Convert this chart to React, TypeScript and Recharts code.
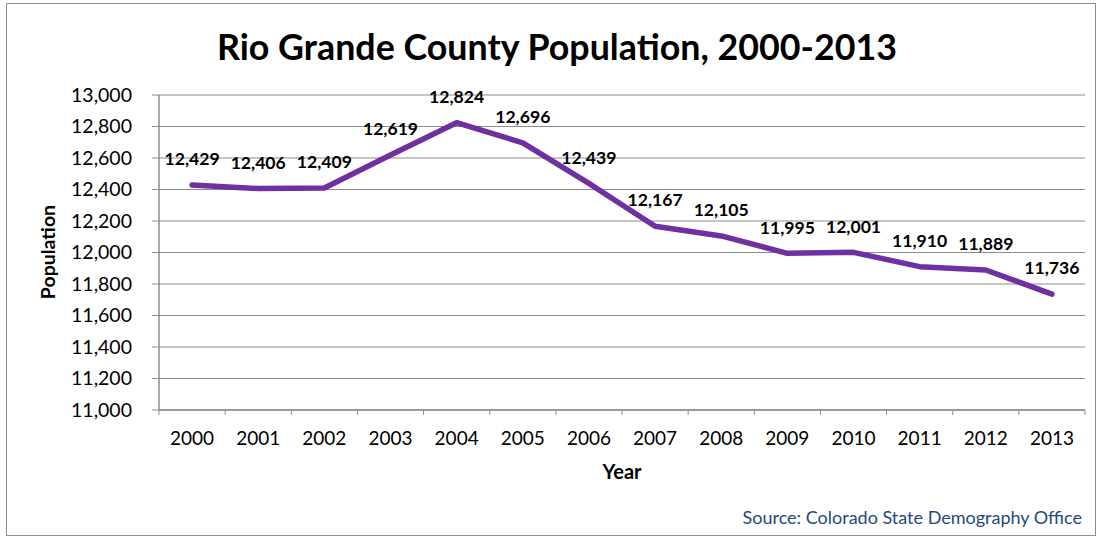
import React from 'react';
import { LineChart, Line, XAxis, YAxis, CartesianGrid, LabelList } from 'recharts';

const years = ['2000', '2001', '2002', '2003', '2004', '2005', '2006', '2007', '2008', '2009', '2010', '2011', '2012', '2013'];
const population = [12429, 12406, 12409, 12619, 12824, 12696, 12439, 12167, 12105, 11995, 12001, 11910, 11889, 11736];
const yTicks = [11000, 11200, 11400, 11600, 11800, 12000, 12200, 12400, 12600, 12800, 13000];

const data = years.map((year, i) => ({ year, population: population[i] }));

const W = 1097;
const H = 538;
const MARGIN = { top: 95, right: 12, bottom: 88, left: 79 };
const Y_AXIS_W = 80;
const X_AXIS_H = 40;
const PLOT_W = W - MARGIN.left - MARGIN.right - Y_AXIS_W;
const FONT = 'Lato, "Open Sans", sans-serif';
const GRID = '#8c8c8c';

const fmt = (v: number) => v.toLocaleString('en-US');

const XTick = (props: any) => {
  const { x, y, payload, index } = props;
  const half = PLOT_W / years.length / 2;
  return (
    <g>
      <line x1={x - half} x2={x - half} y1={y} y2={y + 5} stroke={GRID} strokeWidth={1} />
      {index === years.length - 1 && (
        <line x1={x + half} x2={x + half} y1={y} y2={y + 5} stroke={GRID} strokeWidth={1} />
      )}
      <text x={x} y={y + 28} dy="0.355em" textAnchor="middle" fontFamily={FONT} fontSize={19} fill="#000">
        {payload.value}
      </text>
    </g>
  );
};

const renderLabel = (props: any) => {
  const { x, y, value } = props;
  return (
    <text x={x} y={y - 26} dy="0.355em" textAnchor="middle" fontFamily={FONT} fontWeight={700} fontSize={17.6} fill="#000">
      {fmt(value)}
    </text>
  );
};

export default function App() {
  return (
    <div style={{ position: 'absolute', left: 0, top: 0, width: W, height: H, background: '#fff' }}>
      <div style={{ position: 'absolute', left: 6, top: 3, width: 1088, height: 531, border: '1px solid #8c8c8c' }} />
      <LineChart width={W} height={H} data={data} margin={MARGIN}>
        <CartesianGrid vertical={false} stroke={GRID} strokeWidth={1} />
        <XAxis
          dataKey="year"
          scale="band"
          height={X_AXIS_H}
          tickSize={0}
          tickMargin={0}
          tick={<XTick />}
          axisLine={{ stroke: GRID, strokeWidth: 1.5 }}
          tickLine={false}
          interval={0}
        />
        <YAxis
          width={Y_AXIS_W}
          domain={[11000, 13000]}
          ticks={yTicks}
          tickFormatter={fmt}
          tickSize={7}
          tickMargin={20}
          axisLine={{ stroke: GRID, strokeWidth: 1.5 }}
          tickLine={{ stroke: GRID }}
          tick={{ fill: '#000', fontSize: 19.5, fontFamily: FONT }}
          allowDataOverflow
        />
        <Line
          type="linear"
          dataKey="population"
          stroke="#7030A0"
          strokeWidth={5.5}
          strokeLinecap="round"
          strokeLinejoin="round"
          dot={false}
          isAnimationActive={false}
        >
          <LabelList dataKey="population" content={renderLabel} />
        </Line>
      </LineChart>
      <svg width={W} height={H} style={{ position: 'absolute', left: 0, top: 0, pointerEvents: 'none' }}>
        <text x={557} y={47} dy="0.355em" textAnchor="middle" fontFamily={FONT} fontWeight={700} fontSize={35.8} fill="#000">
          Rio Grande County Population, 2000-2013
        </text>
        <text x={48} y={252} dy="0.355em" textAnchor="middle" transform="rotate(-90 48 252)" fontFamily={FONT} fontWeight={700} fontSize={19.5} fill="#000">
          Population
        </text>
        <text x={622} y={472} dy="0.355em" textAnchor="middle" fontFamily={FONT} fontWeight={700} fontSize={20} fill="#000">
          Year
        </text>
        <text x={1082} y={518} dy="0.355em" textAnchor="end" fontFamily={FONT} fontSize={18} fill="#1F497D">
          Source: Colorado State Demography Office
        </text>
      </svg>
    </div>
  );
}
